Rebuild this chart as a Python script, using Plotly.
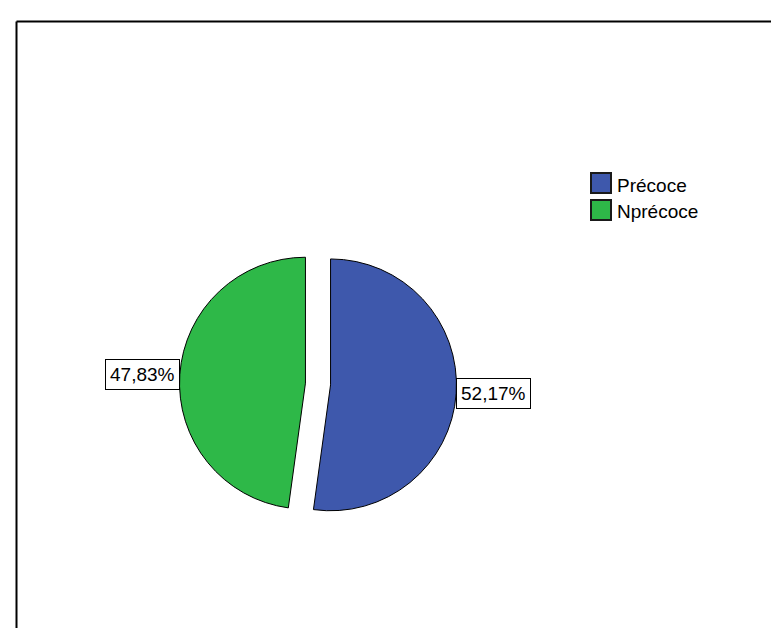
import math
import plotly.graph_objects as go

# ---- data ----
labels = ["Précoce", "Nprécoce"]
values = [52.17, 47.83]
colors = ["#3E58AC", "#2EB848"]

# ---- layout constants ----
W, H = 779, 628
CX, CY = 310, 376          # pie centre in pixels (from top-left)
BOX = 277                  # pie domain size in pixels
PULL = 0.1
R = BOX / (2 + 2 * PULL)   # plotly's radius for pulled pies
FONT = "Arial, Liberation Sans, sans-serif"

fig = go.Figure()
fig.add_trace(go.Pie(
    labels=labels,
    values=values,
    sort=False,
    direction="clockwise",
    rotation=0,
    pull=[PULL] * len(values),
    marker=dict(colors=colors, line=dict(color="#000000", width=1)),
    textinfo="none",
    hoverinfo="label+percent",
    domain=dict(x=[(CX - BOX / 2) / W, (CX + BOX / 2) / W],
                y=[1 - (CY + BOX / 2) / H, 1 - (CY - BOX / 2) / H]),
    showlegend=False,
))

# boxed percentage labels placed at each slice's outer edge
total = sum(values)
start = 0.0
for v in values:
    frac = v / total
    mid = math.radians((start + frac / 2) * 360)
    dx, dy = math.sin(mid), -math.cos(mid)
    px = CX + (PULL * R + R) * dx
    py = CY + (PULL * R + R) * dy
    txt = f"{v / total * 100:.2f}%".replace(".", ",")
    fig.add_annotation(
        x=(px - 3 * (1 if dx > 0 else -1) * 0) / W, y=1 - py / H,
        xref="paper", yref="paper",
        text=txt, showarrow=False,
        xanchor="left" if dx > 0 else "right", yanchor="middle",
        font=dict(family=FONT, size=19, color="#000000"),
        bgcolor="#FFFFFF", bordercolor="#000000", borderwidth=1, borderpad=4,
    )
    start += frac

# legend (swatches + labels) at the upper right
LX, LY, SW, ROW = 583, 165, 20, 27
for i, (lab, col) in enumerate(zip(labels, colors)):
    top = LY + i * ROW
    fig.add_shape(type="rect", xref="paper", yref="paper",
                  x0=LX / W, x1=(LX + SW) / W,
                  y0=1 - (top + SW) / H, y1=1 - top / H,
                  fillcolor=col, line=dict(color="#1a1a1a", width=2))
    fig.add_annotation(x=(LX + SW + 4) / W, y=1 - (top + SW / 2 + 2) / H,
                       xref="paper", yref="paper", text=lab, showarrow=False,
                       xanchor="left", yanchor="middle",
                       font=dict(family=FONT, size=19, color="#000000"))

# frame lines (top and left)
fig.add_shape(type="line", xref="paper", yref="paper",
              x0=8.5 / W, y0=1 - 13.5 / H, x1=1, y1=1 - 13.5 / H,
              line=dict(color="#000000", width=2))
fig.add_shape(type="line", xref="paper", yref="paper",
              x0=8.5 / W, y0=1 - 13.5 / H, x1=8.5 / W, y1=0,
              line=dict(color="#000000", width=2))

fig.update_layout(
    width=W, height=H,
    margin=dict(l=0, r=0, t=0, b=0),
    paper_bgcolor="#FFFFFF", plot_bgcolor="#FFFFFF",
    font=dict(family=FONT, size=19, color="#000000"),
    showlegend=False,
)

fig.write_html("out.html")
